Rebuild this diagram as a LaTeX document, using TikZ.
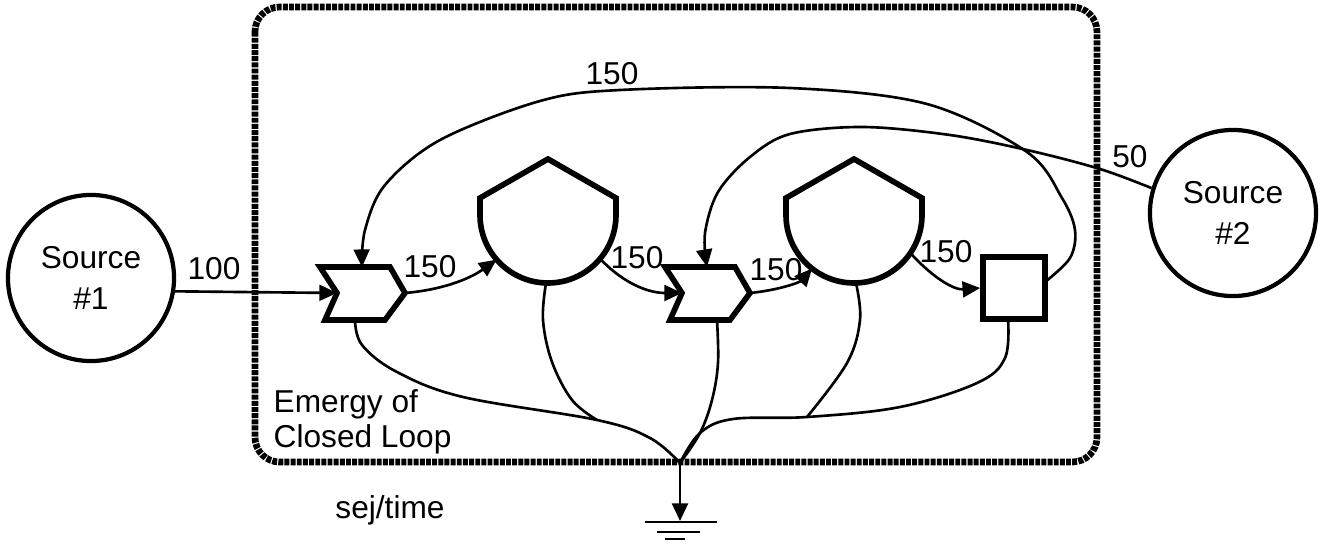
\documentclass[tikz,border=0pt]{standalone}
\usepackage{fontspec}
\setmainfont{Liberation Sans}
\usetikzlibrary{arrows.meta,positioning,calc}

\begin{document}
\begin{tikzpicture}[x=0.01cm,y=-0.01cm,>={Triangle[length=5pt,width=4.5pt]},
  flow/.style={line width=0.75pt},
  symb/.style={line width=1.6pt,line join=miter},
  src/.style={circle,draw,line width=1.2pt,minimum size=1.66cm,align=center,font=\fontsize{9}{11.5}\selectfont},
  lbl/.style={font=\fontsize{9}{11}\selectfont,inner sep=0pt},
  loopline/.style={line width=1.9pt,dash pattern=on 1.4pt off 0.35pt,rounded corners=7pt}]
  \useasboundingbox (0,0) rectangle (1326,545);
  \draw[loopline] (255,7) rectangle (1097,462);
  % sources
  \node[src] (src1) at (91,278) {Source\\\#1};
  \node[src] (src2) at (1233,213) {Source\\\#2};
  % interactions and tanks
  \foreach \cx in {362,707} {
    \draw[symb,shift={(\cx,293)}] (-42,-26) -- (28,-26) -- (43,0) -- (23,27) -- (-37,27) -- (-25,0) -- cycle;
  }
  \foreach \tx in {548,854} {
    \draw[symb,shift={(\tx,215)}] (-68,-17) -- (-68,0) arc[start angle=180,end angle=0,radius=68] -- (68,-17) -- (0,-56) -- cycle;
  }
  \node[draw,line width=1.6pt,minimum size=0.62cm,inner sep=0pt] (store) at (1014,288) {};
  % ports
  \coordinate (ix1in) at (337,293);
  \coordinate (ix1out) at (405,293);
  \coordinate (ix1top) at (362,267);
  \coordinate (ix1bot) at (355,320);
  \coordinate (ix2in) at (682,293);
  \coordinate (ix2out) at (750,293);
  \coordinate (ix2top) at (707,267);
  \coordinate (ix2bot) at (717,320);
  \coordinate (tk1in) at ($(548,215)+(139:68)$);
  \coordinate (tk1out) at ($(548,215)+(40:68)$);
  \coordinate (tk1bot) at (546,283);
  \coordinate (tk2in) at ($(854,215)+(128:68)$);
  \coordinate (tk2out) at ($(854,215)+(34:68)$);
  \coordinate (tk2bot) at (856,283);
  \coordinate (stout) at (1045,282);
  \coordinate (stbot) at (1008,318);
  \coordinate (sink) at (680,463);
  \coordinate (ground) at (680,521);
  % flows
  \draw[flow,->] (src1.-9) -- (ix1in);
  \draw[flow,->] (ix1out) .. controls (440,290) and (468,280) .. (tk1in);
  \draw[flow,->] (tk1out) .. controls (625,285) and (650,293) .. (ix2in);
  \draw[flow,->] (ix2out) .. controls (780,290) and (800,282) .. (tk2in);
  \draw[flow,->] (tk2out) .. controls (935,280) and (955,290) .. (store.west);
  \draw[flow,->] plot[smooth,tension=0.55] coordinates {(stout) (1070,258) (1075,230) (1062,198) (1027,152) (927,104) (790,88) (620,90) (540,101) (440,140) (385,185) (365,230) (ix1top)};
  \draw[flow,->] plot[smooth,tension=0.55] coordinates {(src2.163) (1100,169) (1027,150) (950,135) (863,127) (790,134) (750,157) (718,192) (705,233) (ix2top)};
  % heat sink
  \draw[flow] plot[smooth,tension=0.6] coordinates {(ix1bot) (362,345) (397,372) (463,397) (597,420) (650,438) (sink)};
  \draw[flow] plot[smooth,tension=0.6] coordinates {(tk1bot) (543,320) (552,362) (572,400) (597,420)};
  \draw[flow] plot[smooth,tension=0.6] coordinates {(ix2bot) (718,363) (712,400) (700,433) (sink)};
  \draw[flow] plot[smooth,tension=0.6] coordinates {(tk2bot) (860,320) (847,363) (807,417)};
  \draw[flow] plot[smooth,tension=0.6] coordinates {(stbot) (1005,358) (977,383) (900,407) (807,417) (733,419) (700,433) (sink)};
  \draw[flow,->] (sink) -- (ground);
  \draw[flow] ($(ground)+(-35,1)$) -- ($(ground)+(37,1)$);
  \draw[flow] ($(ground)+(-23,11)$) -- ($(ground)+(20,11)$);
  \draw[flow] ($(ground)+(-15,18)$) -- ($(ground)+(5,18)$);
  % labels
  \node[lbl] (q100) at (214,269) {100};
  \node[lbl] (q150a) at (430,267) {150};
  \node[lbl] (q150b) at (637,258) {150};
  \node[lbl] (q150c) at (776,270) {150};
  \node[lbl] (q150d) at (946,252) {150};
  \node[lbl] (q150e) at (612,74) {150};
  \node[lbl] (q50) at (1130,157) {50};
  \node[lbl,align=left,anchor=west,font=\fontsize{9}{10}\selectfont] (loopname) at (273,422) {Emergy of\\Closed Loop};
  \node[lbl] (unit) at (390,510) {sej/time};
\end{tikzpicture}
\end{document}
